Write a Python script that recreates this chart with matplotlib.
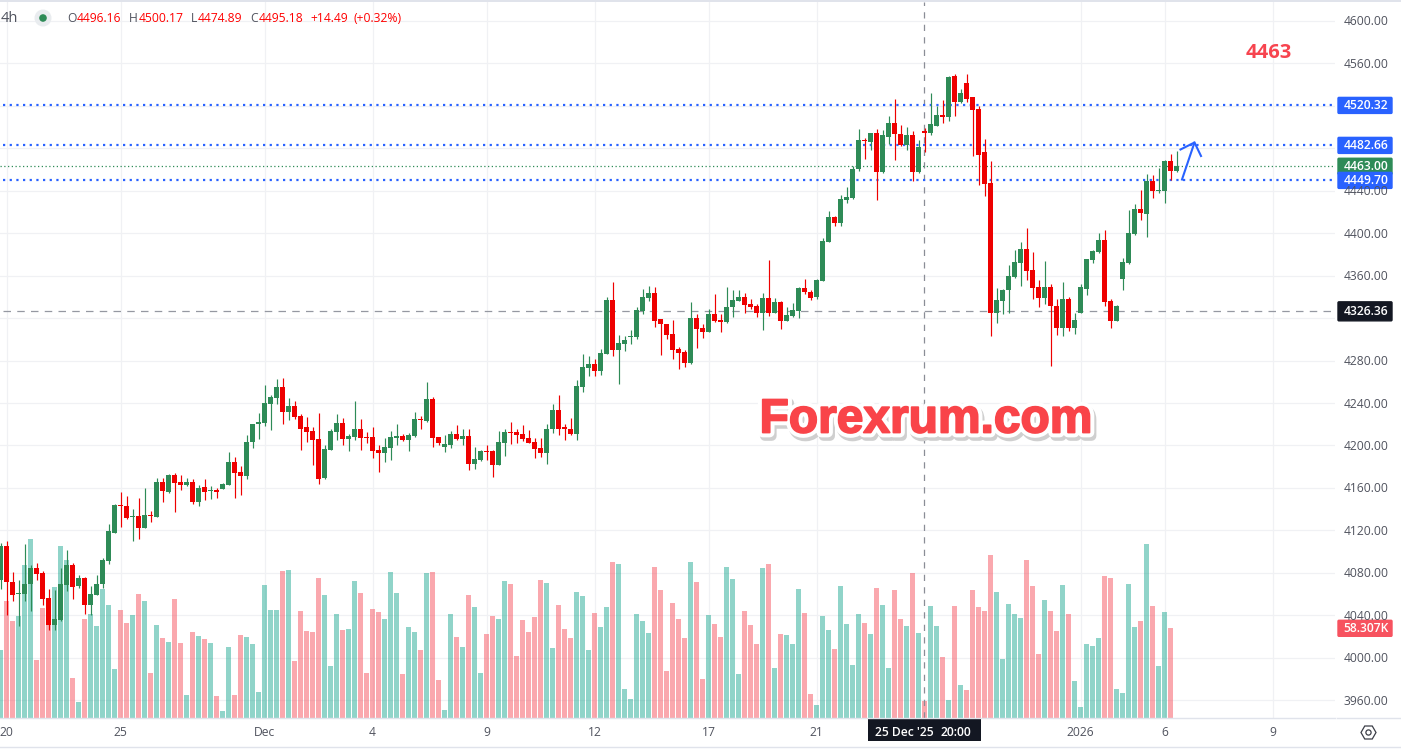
import numpy as np
import matplotlib
matplotlib.use('Agg')
import matplotlib.pyplot as plt
import matplotlib.patheffects as pe
from matplotlib.patches import Rectangle, RegularPolygon, Circle, FancyBboxPatch

# 4h candles, one row = ten candles
opens = [4073,4105,4071,4060,4060,4070,4085,4080,4056,4031,
         4036,4069,4087,4068,4075,4050,4059,4070,4091,4118,
         4144,4143,4133,4134,4122,4135,4133,4166,4156,4172,
         4166,4163,4166,4147,4161,4157,4158,4159,4163,4184,
         4175,4171,4203,4220,4221,4239,4245,4255,4232,4237,
         4228,4217,4214,4206,4169,4196,4213,4221,4206,4208,
         4216,4208,4208,4196,4193,4198,4207,4209,4205,4209,
         4225,4223,4244,4208,4199,4200,4211,4206,4209,4183,
         4186,4195,4195,4182,4202,4213,4213,4211,4207,4203,
         4198,4193,4216,4233,4217,4216,4211,4255,4273,4277,
         4270,4286,4337,4290,4296,4302,4302,4327,4339,4344,
         4319,4314,4305,4291,4288,4278,4320,4311,4307,4324,
         4318,4316,4330,4336,4340,4333,4331,4325,4339,4325,
         4335,4317,4322,4327,4348,4345,4340,4355,4392,4415,
         4410,4431,4433,4460,4488,4486,4494,4458,4491,4504,
         4493,4483,4492,4458,4496,4494,4501,4511,4509,4548,
         4524,4541,4528,4517,4476,4447,4325,4336,4346,4359,
         4372,4385,4365,4349,4339,4349,4331,4311,4338,4311,
         4325,4347,4375,4382,4394,4336,4317,4357,4372,4399,
         4423,4418,4449,4440,4440,4468,4459]
highs = [4108,4110,4081,4073,4107,4087,4089,4082,4065,4064,
         4085,4102,4089,4078,4076,4068,4078,4094,4126,4145,
         4156,4152,4140,4151,4160,4138,4169,4169,4173,4174,
         4172,4169,4168,4163,4168,4162,4160,4165,4194,4189,
         4181,4210,4220,4231,4257,4248,4263,4264,4245,4242,
         4230,4227,4217,4231,4200,4216,4230,4226,4211,4242,
         4225,4213,4217,4200,4207,4214,4220,4211,4212,4232,
         4228,4260,4246,4208,4210,4214,4219,4216,4216,4199,
         4196,4200,4196,4214,4216,4222,4216,4219,4215,4207,
         4207,4220,4239,4248,4220,4226,4262,4286,4284,4281,
         4291,4340,4354,4304,4303,4309,4330,4347,4350,4349,
         4319,4314,4318,4293,4290,4335,4324,4314,4329,4343,
         4324,4349,4346,4346,4344,4338,4333,4344,4375,4339,
         4336,4330,4334,4349,4357,4346,4357,4395,4421,4416,
         4436,4443,4463,4498,4490,4494,4498,4497,4510,4526,
         4502,4500,4496,4488,4499,4532,4520,4525,4548,4550,
         4536,4550,4528,4520,4489,4468,4348,4347,4370,4384,
         4392,4405,4382,4356,4374,4352,4338,4354,4340,4325,
         4352,4376,4384,4400,4403,4338,4332,4377,4422,4427,
         4441,4456,4455,4461,4469,4475,4477]
lows = [4065,4040,4054,4030,4054,4044,4073,4050,4026,4026,
        4035,4063,4055,4066,4041,4040,4059,4066,4088,4118,
        4123,4131,4110,4112,4122,4128,4133,4147,4155,4137,
        4158,4162,4145,4143,4149,4150,4151,4159,4163,4151,
        4153,4168,4198,4206,4218,4215,4239,4220,4224,4225,
        4196,4203,4182,4164,4168,4196,4205,4200,4195,4205,
        4196,4202,4188,4175,4184,4186,4200,4204,4195,4208,
        4216,4222,4199,4200,4194,4198,4205,4200,4177,4178,
        4185,4186,4170,4182,4190,4201,4202,4204,4202,4188,
        4189,4183,4212,4210,4205,4210,4205,4250,4265,4265,
        4266,4286,4284,4258,4289,4296,4300,4324,4336,4312,
        4285,4300,4281,4272,4274,4277,4292,4301,4307,4316,
        4307,4315,4321,4336,4325,4329,4321,4309,4322,4325,
        4310,4317,4321,4320,4343,4337,4338,4355,4392,4407,
        4407,4428,4432,4459,4470,4478,4431,4457,4484,4469,
        4482,4478,4449,4457,4476,4492,4501,4504,4506,4510,
        4523,4524,4473,4445,4435,4303,4315,4324,4325,4358,
        4350,4356,4338,4330,4333,4275,4304,4303,4308,4305,
        4325,4342,4372,4381,4331,4311,4317,4346,4371,4398,
        4412,4396,4433,4438,4428,4450,4458]
closes = [4105,4071,4059,4061,4070,4085,4079,4055,4031,4037,
          4070,4087,4067,4075,4050,4060,4070,4092,4119,4144,
          4143,4132,4134,4122,4135,4134,4166,4157,4172,4165,
          4163,4166,4147,4160,4156,4158,4156,4164,4184,4174,
          4171,4203,4220,4222,4240,4246,4255,4232,4237,4227,
          4216,4213,4205,4168,4197,4214,4221,4206,4209,4216,
          4207,4207,4195,4193,4199,4208,4209,4205,4210,4225,
          4224,4244,4207,4202,4201,4211,4206,4209,4183,4187,
          4195,4194,4182,4203,4213,4212,4210,4206,4202,4197,
          4193,4216,4233,4216,4216,4211,4256,4274,4277,4270,
          4287,4337,4290,4297,4299,4303,4328,4340,4344,4317,
          4314,4304,4290,4287,4278,4320,4310,4307,4324,4317,
          4316,4330,4337,4340,4332,4330,4325,4339,4325,4335,
          4317,4323,4328,4348,4345,4339,4356,4393,4415,4410,
          4432,4434,4460,4488,4487,4494,4458,4492,4504,4493,
          4483,4492,4458,4481,4494,4503,4511,4509,4547,4524,
          4532,4526,4516,4474,4446,4325,4337,4346,4360,4373,
          4385,4364,4348,4339,4349,4331,4311,4338,4311,4318,
          4349,4376,4383,4394,4335,4317,4331,4373,4400,4423,
          4419,4449,4440,4441,4468,4459,4463]
# volume in thousands, last candle has no bar
volumes = [44.1,75.8,62.9,66.1,99.1,116.0,37.6,71.3,61.3,84.9,
           111.5,102.4,25.9,10.4,64.2,67.4,59.6,83.6,73.2,31.8,
           70.0,61.6,66.7,80.4,75.8,29.2,60.3,51.8,49.2,77.1,
           48.6,14.9,55.7,53.1,51.2,48.6,14.3,4.5,46.0,14.9,
           53.8,52.5,48.0,16.8,86.2,70.0,70.0,95.3,95.9,36.9,
           69.3,56.4,55.7,90.7,79.7,33.7,67.4,57.0,57.7,88.8,
           81.0,29.2,70.6,68.7,64.2,94.6,81.0,28.5,59.0,55.7,
           44.1,94.0,94.6,24.6,5.2,67.4,52.5,46.0,79.7,71.9,
           29.2,54.4,66.1,64.2,88.8,86.8,40.2,63.5,55.7,65.4,
           89.4,87.5,45.4,73.2,57.7,51.8,81.6,79.1,44.1,68.0,
           59.0,71.9,101.1,99.8,18.8,12.3,67.4,62.9,55.1,97.8,
           82.9,30.5,74.5,64.2,51.8,101.1,88.1,25.3,66.7,60.9,
           52.5,97.8,90.1,28.5,69.3,60.3,48.0,97.2,99.8,32.4,
           54.4,53.8,48.0,83.6,68.0,15.6,8.4,66.1,57.0,44.7,
           85.5,60.9,34.3,67.4,61.6,54.4,84.2,73.2,32.4,82.9,
           64.2,59.6,94.0,55.1,11.0,72.6,59.6,39.5,11.7,72.6,
           21.4,18.1,82.9,71.9,69.3,105.6,81.6,38.2,73.9,67.4,
           64.8,102.4,85.5,41.5,76.5,69.3,56.4,86.2,67.4,24.0,
           7.1,48.0,46.7,51.8,92.0,90.7,18.8,16.2,86.8,59.0,
           62.9,112.8,72.6,33.7,68.7,58.3]

price_ticks = [3960,4000,4040,4080,4120,4160,4200,4240,4280,4320,4360,4400,4440,4480,4520,4560,4600]
hidden_ticks = [4320,4480,4520]  # these sit right under a price tag
time_ticks = [1,20,44,62,81,99,118,136,180,194,212]
time_labels = ['20','25','Dec','4','9','12','17','21','2026','6','9']
cross_idx = 154
level_prices = [4520.32,4482.66,4449.70]
last_price = 4463.00
ref_price = 4326.36

W, H = 1401, 754
GREEN, RED = '#2e8b57', '#ee0000'
BLUE = '#2962ff'
TXT = '#50535e'
FONT = 'Open Sans'
plt.rcParams['font.family'] = [FONT, 'DejaVu Sans']

fig = plt.figure(figsize=(W/100, H/100), dpi=100, facecolor='white')

def y_of(p):
    return 700.3-(p-3960)*1.0617

# pixel rect of the plot pane
L, R, T, B = 0, 1335, 2, 718
pos = [L/W, 1-B/H, (R-L)/W, (B-T)/H]
ymin, ymax = 3960-(B-700.3)/1.0617, 3960+(700.3-T)/1.0617
xmin, xmax = -0.5/6, (R-0.5)/6

ax_v = fig.add_axes(pos, zorder=1)
ax = fig.add_axes(pos, zorder=2)
ax.patch.set_alpha(0)
for a in (ax, ax_v):
    a.set_xlim(xmin, xmax)
    a.axis('off')
ax.set_ylim(ymin, ymax)
ax_v.set_ylim(0, (B-T)*0.648)

# grid sits under the volume bars
for p in price_ticks:
    ax_v.plot([xmin, xmax], [(p-ymin)/(ymax-ymin)*(B-T)*0.648]*2, color='#f0f1f4', lw=0.9, zorder=0)
for t in time_ticks:
    ax_v.axvline(t, color='#f0f1f4', lw=0.9, zorder=0)

idx = np.arange(len(opens))
opens, highs, lows, closes = map(np.array, (opens, highs, lows, closes))
up = closes >= opens
vol_idx = idx[:len(volumes)]
ax_v.bar(vol_idx, volumes, width=5/6, color=['#22ab94' if u else '#f7525f' for u in up[:len(volumes)]],
         alpha=0.5, linewidth=0, zorder=2)

# level lines
ax.plot([2/6, xmax], [ref_price]*2, color='#9598a1', lw=0.9, dashes=(6, 5), zorder=1)
ax.axvline(cross_idx-0.05, color='#8a8d96', lw=0.9, dashes=(5, 5), zorder=1)
ax.plot([xmin, xmax], [last_price]*2, color=GREEN, lw=0.9, dashes=(1, 2), zorder=1)
for p in level_prices:
    ax.plot([2/6, xmax], [p]*2, color=BLUE, lw=1.6, dashes=(1, 2), zorder=1)

# candles
colors = np.where(up, GREEN, RED)
ax.vlines(idx, lows, highs, colors=colors, lw=0.85, zorder=3)
bottoms = np.minimum(opens, closes)
heights = np.maximum(np.abs(closes-opens), 1)
ax.bar(idx, heights, bottom=bottoms, width=5/6, color=colors, linewidth=0, zorder=4)

# overlay in pixels for the scales and tags
ov = fig.add_axes([0, 0, 1, 1], zorder=5)
ov.set_xlim(0, W)
ov.set_ylim(H, 0)
ov.axis('off')
ov.patch.set_alpha(0)

ov.add_patch(Rectangle((0, 0), W, 2, color='#e0e3eb', lw=0))
ov.plot([0, 1335], [718, 718], color='#e0e3eb', lw=1)
ov.plot([1337, W], [718, 718], color='#e0e3eb', lw=1)
ov.plot([0, W], [746.5, 746.5], color='#e0e3eb', lw=1)

for p in price_ticks:
    if p not in hidden_ticks:
        ov.text(1366, y_of(p)+1, '%.2f' % p, ha='center', va='center', fontsize=8.7, color=TXT)
for t, s in zip(time_ticks, time_labels):
    ov.text(t*6+0.5, 732.5, s, ha='center', va='center', fontsize=8.7, color=TXT)

def price_tag(y, s, col, h=18):
    ov.add_patch(FancyBboxPatch((1338, y-h/2+1), 54, h-2, boxstyle='round,pad=0,rounding_size=1',
                                fc=col, ec=col, lw=1))
    ov.text(1366, y+0.5, s, ha='center', va='center', fontsize=8.7, color='white', fontweight='semibold')

price_tag(y_of(4520.32), '4520.32', BLUE)
price_tag(y_of(4482.66), '4482.66', BLUE)
price_tag(y_of(last_price), '4463.00', GREEN)
price_tag(y_of(4449.70), '4449.70', BLUE)
price_tag(y_of(ref_price), '4326.36', '#131722', h=21)
price_tag(628.3, '58.307K', '#f7525f')

# crosshair time tag
ov.add_patch(Rectangle((868, 718), 113, 23, color='#131722', lw=0))
ov.text(904, 732.5, "25 Dec '25", ha='center', va='center', fontsize=8.7, color='white', fontweight='semibold')
ov.text(956, 732.5, '20:00', ha='center', va='center', fontsize=8.7, color='white', fontweight='semibold')

# legend row
ov.text(1, 19, '4h', ha='left', va='center', fontsize=10.5, color=TXT)
ov.add_patch(Circle((43, 18), 8.5, fc='#e9ecef', ec='none'))
ov.add_patch(Circle((43, 18), 3.8, fc=GREEN, ec='none'))
head = [(67.5, 'O', TXT), (77, '4496.16', RED), (129, 'H', TXT), (139, '4500.17', RED),
        (191, 'L', TXT), (198, '4474.89', RED), (250, 'C', TXT), (258.5, '4495.18', RED),
        (310, '+14.49', RED), (354, '(+0.32%)', RED)]
for hx, s, c in head:
    ov.text(hx, 19, s, ha='left', va='center', fontsize=8.7, color='#f00' if c == RED else c)

# hand drawn arrow
ov.plot([1182, 1194.5, 1180.5], [179.5, 142.5, 149.5], color=BLUE, lw=1.5, solid_joinstyle='miter')
ov.plot([1194.5, 1201], [142.5, 156], color=BLUE, lw=1.5)

ov.text(1268.5, 52.5, '4463', ha='center', va='center', fontsize=14.5, color='#f7444f', fontweight='bold')

# watermark
ov.text(926, 420, 'Forexrum.com', ha='center', va='center', family='Liberation Sans',
        fontsize=34.5, fontweight='bold', color='#f94449',
        path_effects=[pe.Stroke(linewidth=7, foreground='#cfcfcf', offset=(1.5, -2.5)),
                      pe.Stroke(linewidth=7, foreground='white'),
                      pe.Stroke(linewidth=1.3, foreground='#f94449'),
                      pe.Normal()])

# settings icon
ov.add_patch(RegularPolygon((1368.5, 732.5), 6, radius=7.5, orientation=np.pi/2, fc='none', ec='#3b3e47', lw=0.9))
ov.add_patch(Circle((1368.5, 732.5), 2.6, fc='none', ec='#3b3e47', lw=0.9))

fig.savefig('out.png', dpi=100)
